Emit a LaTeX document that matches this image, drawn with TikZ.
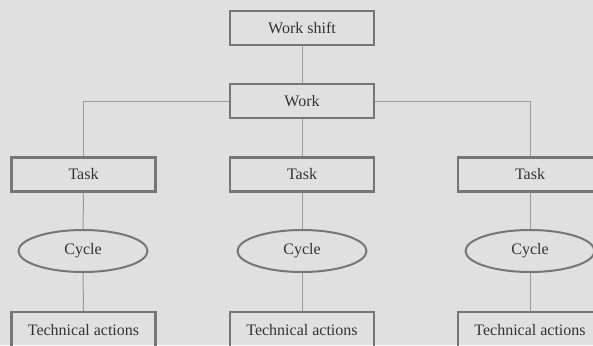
\documentclass[tikz,border=0pt]{standalone}
\usepackage{fontspec}
\setmainfont{Liberation Serif}
\usetikzlibrary{shapes.geometric}
\definecolor{bg}{HTML}{E0E0E0}
\definecolor{boxc}{HTML}{767676}
\definecolor{linec}{HTML}{9A9A9A}
\definecolor{txt}{HTML}{333333}
\tikzset{
  lbl/.style={text=txt, font=\fontsize{16}{18}\selectfont},
  box/.style={draw=boxc, line width=2.4pt, minimum width=144pt, minimum height=34pt, inner sep=0pt, lbl},
  cyc/.style={ellipse, draw=boxc, line width=2pt, minimum width=129pt, minimum height=42pt, inner sep=0pt, lbl},
  conn/.style={draw=linec, line width=1pt}
}
\begin{document}
\begin{tikzpicture}[x=1pt,y=-1pt]
\useasboundingbox (0,0) rectangle (593,345);
\fill[bg] (0,0) rectangle (593,345);
\clip (0,0) rectangle (593,345);
\node[box] (shift) at (302,28) {Work shift};
\node[box] (work) at (302,101) {Work};
\node[box] (t1) at (83.5,174.5) {Task};
\node[box] (t2) at (302,174.5) {Task};
\node[box] (t3) at (530,174.5) {Task};
\node[cyc] (c1) at (83,251) {Cycle};
\node[cyc] (c2) at (302,251) {Cycle};
\node[cyc] (c3) at (530,251) {Cycle};
\node[box, minimum height=40pt] (a1) at (83.5,332) {};
\node[box, minimum height=40pt] (a2) at (302,332) {};
\node[box, minimum height=40pt] (a3) at (530,332) {};
\node[lbl] (l1) at (83.5,330) {Technical actions};
\node[lbl] (l2) at (302,330) {Technical actions};
\node[lbl] (l3) at (530,330) {Technical actions};
\draw[conn] (shift) -- (work);
\draw[conn] (work.west) -| (t1.north);
\draw[conn] (work.east) -| (t3.north);
\draw[conn] (work) -- (t2);
\draw[conn] (t1) -- (c1);
\draw[conn] (t2) -- (c2);
\draw[conn] (t3) -- (c3);
\draw[conn] (c1) -- (a1);
\draw[conn] (c2) -- (a2);
\draw[conn] (c3) -- (a3);
\end{tikzpicture}
\end{document}
